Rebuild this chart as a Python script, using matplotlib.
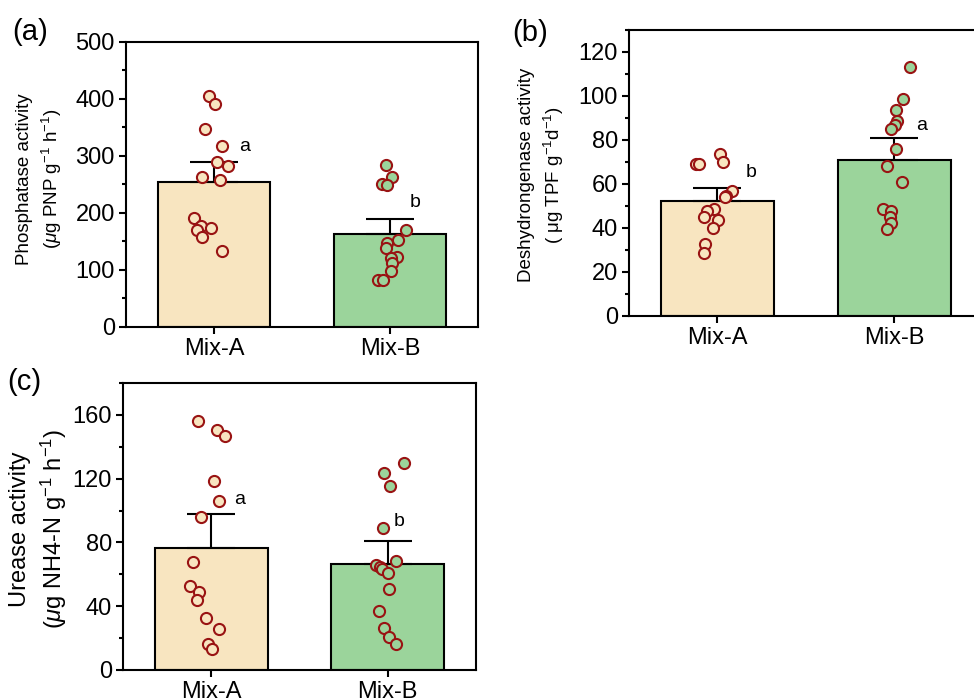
import matplotlib
matplotlib.use('Agg')
import matplotlib.pyplot as plt
from matplotlib.ticker import MultipleLocator

plt.rcParams['font.family'] = ['Liberation Sans', 'DejaVu Sans']
plt.rcParams['mathtext.fontset'] = 'custom'
plt.rcParams['mathtext.rm'] = 'Liberation Sans'
plt.rcParams['mathtext.it'] = 'Liberation Sans:italic'

groups = ['Mix-A', 'Mix-B']
col_a = '#F8E5C0'
col_b = '#9BD49B'
edge_pt = '#991313'

# (a) phosphatase
pho_mean = [254, 163]
pho_err = [35, 27]
pho_a = [406, 391, 347, 318, 289, 283, 264, 258, 191, 178, 173, 171, 157, 133]
pho_a_dx = [-0.029, 0.006, -0.051, 0.046, 0.015, 0.082, -0.070, 0.032, -0.114, -0.076, -0.017, -0.097, -0.070, 0.048]
pho_b = [284, 264, 251, 249, 170, 153, 147, 139, 122, 121, 112, 99, 82, 82]
pho_b_dx = [-0.025, 0.011, -0.044, -0.019, 0.090, 0.048, -0.019, -0.023, 0.042, 0.006, 0.013, 0.004, -0.067, -0.038]
pho_letters = [('a', 0.175, 316), ('b', 1.141, 219)]

# (b) dehydrogenase
deh_mean = [52.4, 70.9]
deh_err = [5.6, 9.8]
deh_a = [69.0, 69.0, 73.7, 69.8, 56.8, 54.6, 53.9, 48.6, 47.5, 44.8, 43.7, 39.8, 32.6, 28.8]
deh_a_dx = [-0.119, -0.104, 0.013, 0.032, 0.081, 0.047, 0.041, -0.019, -0.062, -0.077, 0.002, -0.028, -0.072, -0.077]
deh_b = [113.0, 98.8, 93.8, 88.8, 87.0, 85.0, 75.9, 68.0, 60.8, 48.7, 47.8, 45.2, 42.2, 39.6]
deh_b_dx = [0.090, 0.051, 0.011, 0.013, 0.004, -0.021, 0.008, -0.043, 0.041, -0.066, -0.021, -0.024, -0.019, -0.040]
deh_letters = [('b', 0.192, 65.4), ('a', 1.151, 86.5)]

# (c) urease
ure_mean = [76.4, 66.3]
ure_err = [21.3, 14.9]
ure_a = [155.9, 150.8, 146.9, 118.8, 105.9, 96.0, 67.8, 52.7, 48.7, 43.9, 32.8, 25.9, 16.3, 13.0]
ure_a_dx = [-0.074, 0.030, 0.080, 0.013, 0.042, -0.057, -0.102, -0.121, -0.072, -0.080, -0.028, 0.044, -0.019, 0.002]
ure_b = [129.7, 123.4, 115.1, 88.9, 68.4, 65.9, 64.6, 63.4, 60.9, 50.8, 37.2, 26.4, 20.5, 16.1]
ure_b_dx = [0.091, -0.019, 0.011, -0.025, 0.044, -0.066, -0.045, -0.030, 0.002, 0.009, -0.047, -0.019, 0.009, 0.047]
ure_letters = [('a', 0.161, 107.1), ('b', 1.063, 93.1)]


def panel(ax, means, errs, pts_a, dx_a, pts_b, dx_b, letters, ymax, major, minor):
    ax.bar([0, 1], means, width=0.64, color=[col_a, col_b], edgecolor='black', linewidth=1.5, zorder=1)
    ax.errorbar([0, 1], means, yerr=[[0, 0], errs], fmt='none', ecolor='black',
                elinewidth=1.5, capsize=17, capthick=1.5, zorder=2)
    ax.scatter([d for d in dx_a], pts_a, s=64, facecolor=col_a, edgecolor=edge_pt, linewidth=1.5, zorder=3)
    ax.scatter([1 + d for d in dx_b], pts_b, s=64, facecolor=col_b, edgecolor=edge_pt, linewidth=1.5, zorder=3)
    for txt, x, y in letters:
        ax.text(x, y, txt, fontsize=14, ha='center', va='center')
    ax.set_xlim(-0.5, 1.5)
    ax.set_ylim(0, ymax)
    ax.set_xticks([0, 1])
    ax.set_xticklabels(groups)
    ax.yaxis.set_major_locator(MultipleLocator(major))
    ax.yaxis.set_minor_locator(MultipleLocator(minor))
    ax.xaxis.set_minor_locator(plt.NullLocator())
    ax.tick_params(axis='both', which='major', direction='out', length=5, width=1.5, labelsize=17, pad=3)
    ax.tick_params(axis='y', which='minor', direction='out', length=3, width=1.5)
    for s in ax.spines.values():
        s.set_linewidth(1.5)


fig = plt.figure(figsize=(9.74, 7), dpi=100)

ax1 = fig.add_axes([0.1294, 0.5329, 0.3614, 0.4071])
panel(ax1, pho_mean, pho_err, pho_a, pho_a_dx, pho_b, pho_b_dx, pho_letters, 500, 100, 50)

ax2 = fig.add_axes([0.6458, 0.5486, 0.3634, 0.4086])
panel(ax2, deh_mean, deh_err, deh_a, deh_a_dx, deh_b, deh_b_dx, deh_letters, 130, 20, 10)
ax2.set_yticks(range(0, 121, 20))

ax3 = fig.add_axes([0.1263, 0.0429, 0.3624, 0.41])
panel(ax3, ure_mean, ure_err, ure_a, ure_a_dx, ure_b, ure_b_dx, ure_letters, 180, 40, 20)
ax3.set_yticks(range(0, 161, 40))

fig.text(40 / 974, 1 - 179 / 700, 'Phosphatase activity\n($\\mu$g PNP g$^{-1}$ h$^{-1}$)',
         rotation=90, ha='center', va='center', multialignment='center', fontsize=13.5, linespacing=1.4)
fig.text(542 / 974, 1 - 175 / 700, 'Deshydrongenase activity\n( \u03bcg TPF g$^{-1}$d$^{-1}$)',
         rotation=90, ha='center', va='center', multialignment='center', fontsize=13.5, linespacing=1.4)
fig.text(39 / 974, 1 - 529 / 700, 'Urease activity\n($\\mu$g NH4-N g$^{-1}$ h$^{-1}$)',
         rotation=90, ha='center', va='center', multialignment='center', fontsize=17, linespacing=1.35)

fig.text(12 / 974, 1 - 32 / 700, '(a)', fontsize=21, ha='left', va='center')
fig.text(512 / 974, 1 - 33 / 700, '(b)', fontsize=21, ha='left', va='center')
fig.text(7 / 974, 1 - 382 / 700, '(c)', fontsize=21, ha='left', va='center')

fig.savefig('out.png', dpi=100)
